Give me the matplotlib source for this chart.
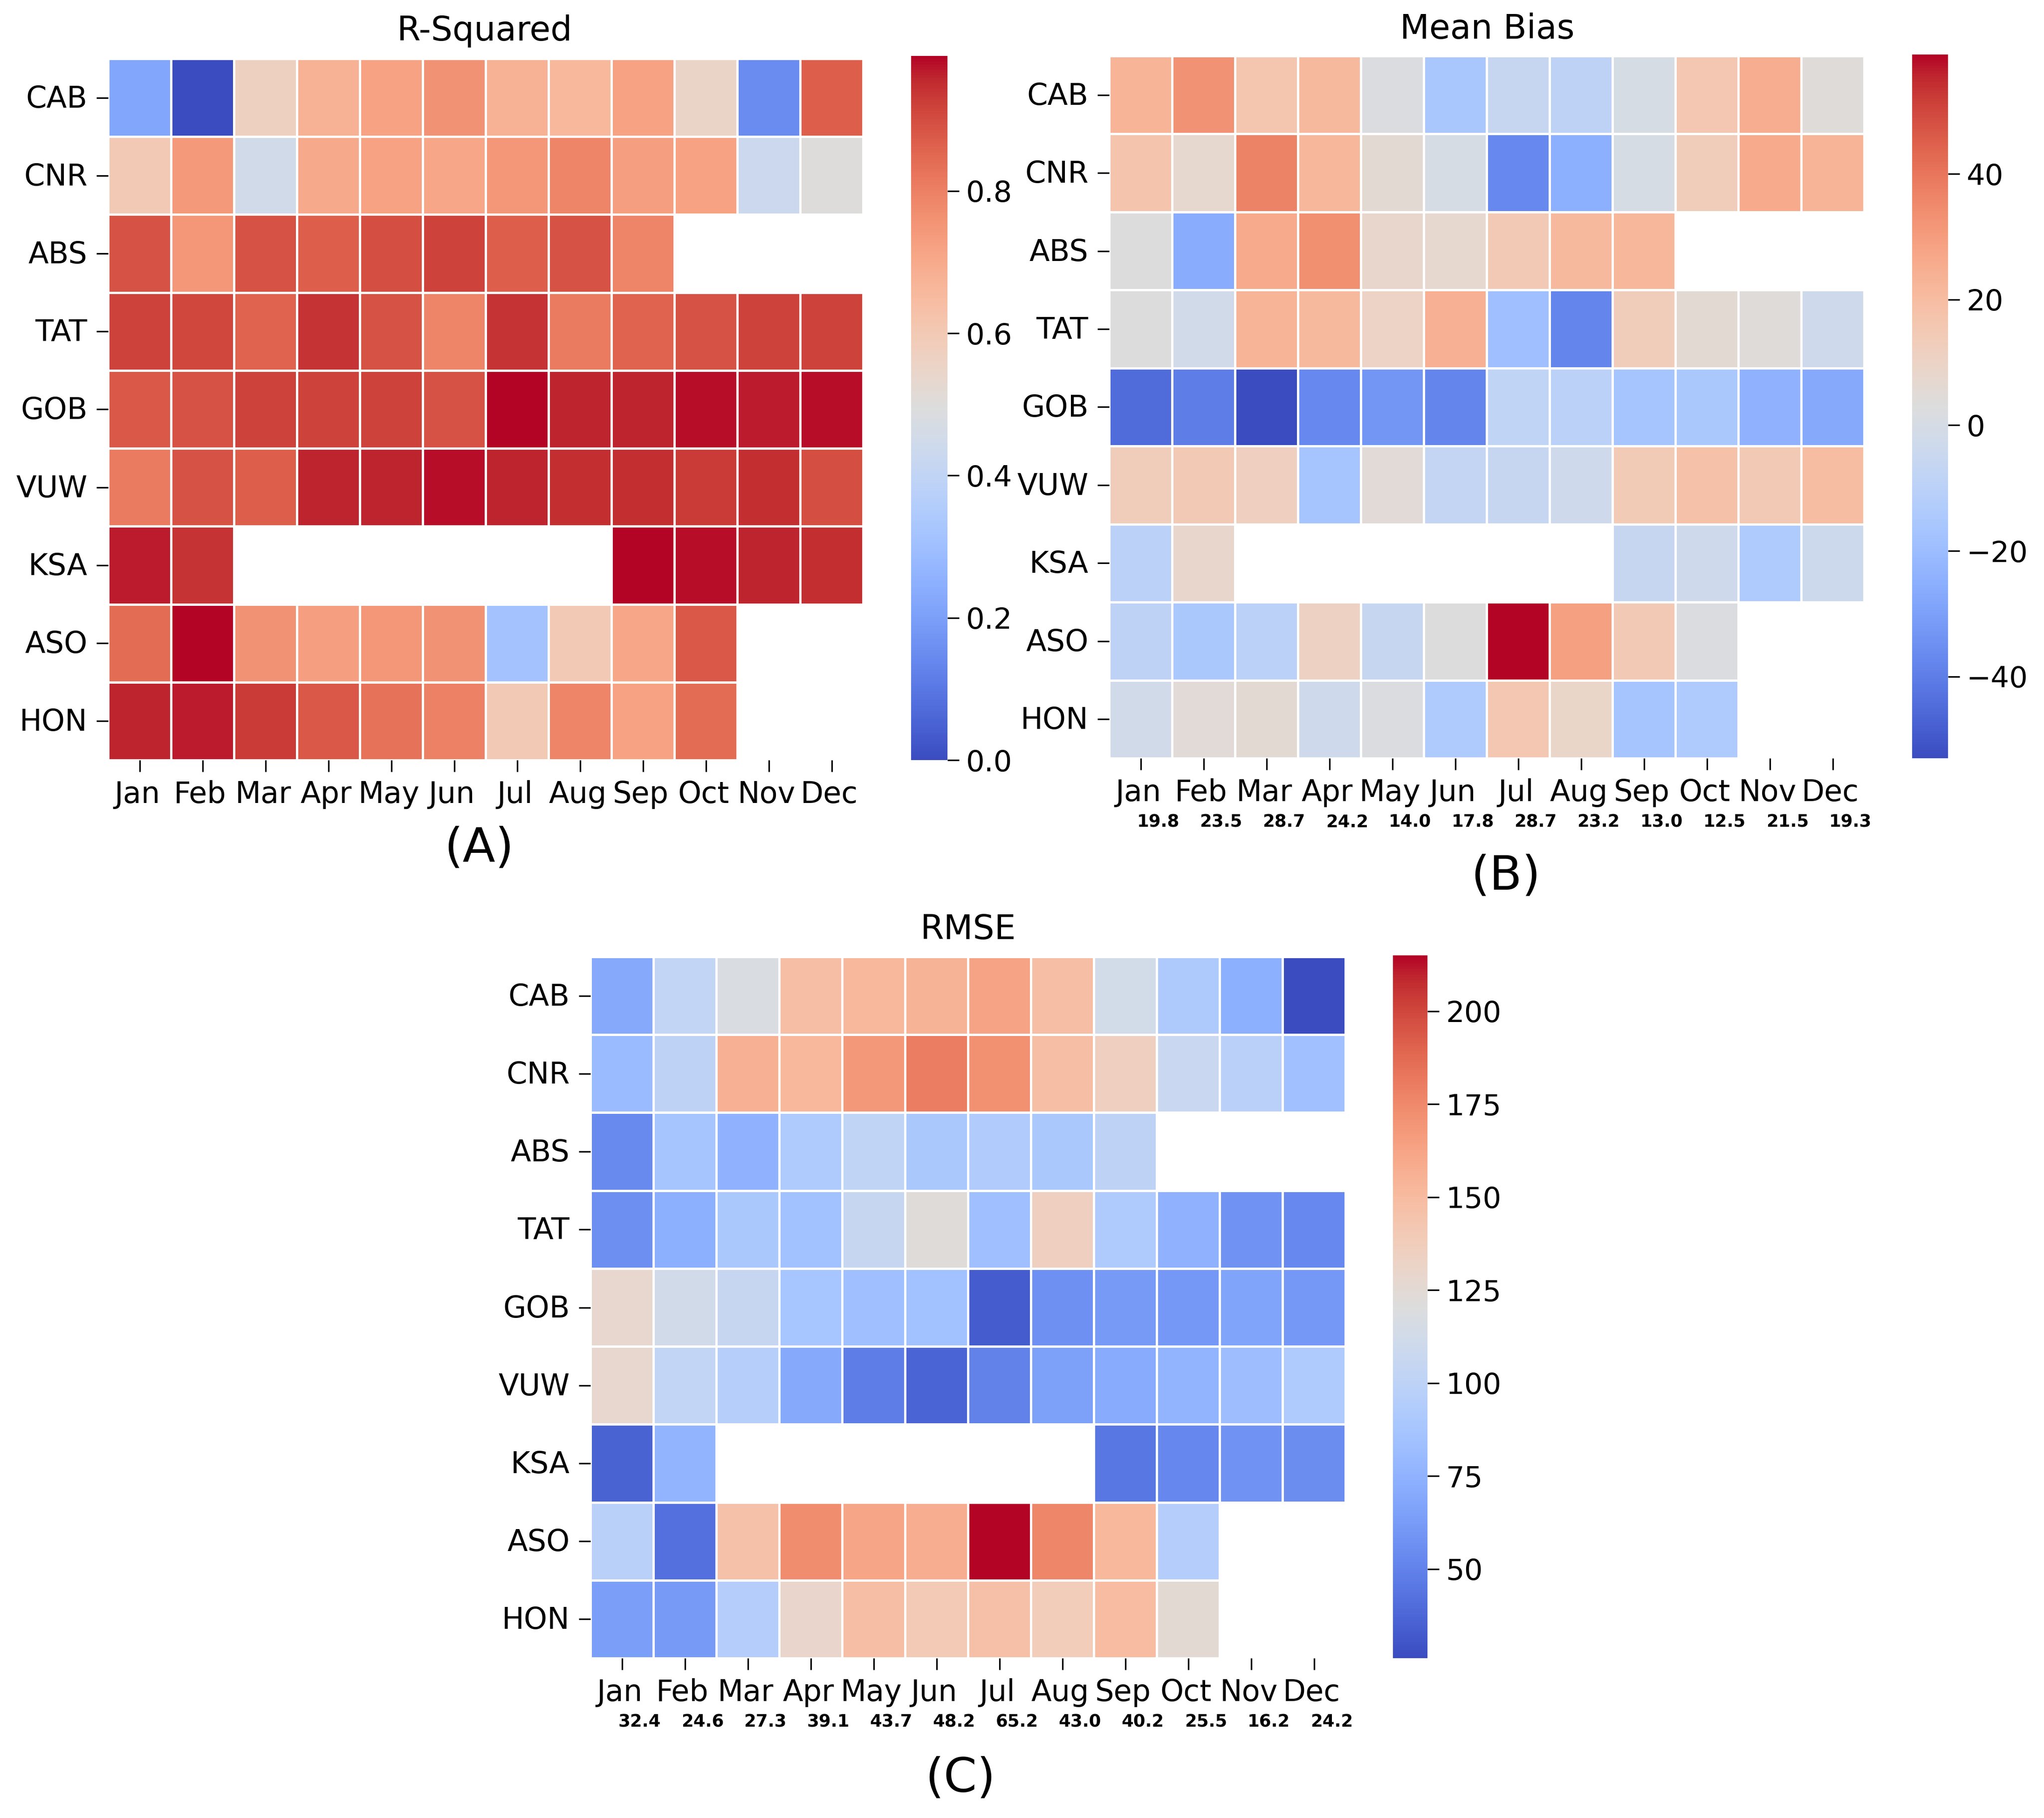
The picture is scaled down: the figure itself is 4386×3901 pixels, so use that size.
import numpy as np
import matplotlib
matplotlib.use("Agg")
import matplotlib.pyplot as plt
from matplotlib.transforms import ScaledTranslation
import seaborn as sns

W = 4386
H = 3901
nan = np.nan

stations = ['CAB', 'CNR', 'ABS', 'TAT', 'GOB', 'VUW', 'KSA', 'ASO', 'HON']
months = ['Jan', 'Feb', 'Mar', 'Apr', 'May', 'Jun', 'Jul', 'Aug', 'Sep', 'Oct', 'Nov', 'Dec']

r2 = [
    [.22, .00, .57, .68, .72, .76, .68, .66, .72, .55, .15, .87],
    [.60, .74, .45, .70, .72, .71, .75, .79, .73, .72, .43, .50],
    [.89, .75, .89, .87, .90, .92, .87, .89, .79, nan, nan, nan],
    [.92, .91, .86, .94, .89, .79, .94, .81, .86, .89, .92, .92],
    [.88, .89, .92, .92, .92, .89, .99, .96, .96, .98, .97, .98],
    [.81, .89, .87, .96, .96, .98, .96, .95, .95, .93, .95, .90],
    [.97, .94, nan, nan, nan, nan, nan, nan, .99, .98, .96, .95],
    [.84, .99, .76, .73, .75, .76, .31, .60, .71, .88, nan, nan],
    [.96, .97, .93, .88, .83, .80, .60, .79, .72, .84, nan, nan],
]

bias = [
    [23, 33, 16.5, 21, 2, -16, -6, -9, 0, 16, 25, 4],
    [17, 7, 37, 22, 6, 0, -37, -25, 0, 13, 26, 23],
    [3, -26, 26, 34, 8, 7, 15, 21, 22, nan, nan, nan],
    [3, -2, 23, 21, 10, 24, -19, -38, 13, 6, 4, -3],
    [-45, -40, -53, -37, -33, -38, -8, -10, -17, -15, -24, -27],
    [13, 15, 12, -17, 5, -7, -6, -3, 14, 18, 15, 20],
    [-10, 8, nan, nan, nan, nan, nan, nan, -6, -3, -14, -4],
    [-9, -15, -10, 11, -6, 3, 59, 29, 15, 2, nan, nan],
    [-2, 5, 6, -3, 2, -14, 16, 9, -17, -14, nan, nan],
]

rmse = [
    [70, 103, 118, 148, 152, 155, 163, 148, 113, 91, 73, 26],
    [80, 100, 156, 152, 168, 180, 172, 148, 136, 107, 98, 84],
    [54, 87, 75, 92, 102, 90, 93, 90, 100, nan, nan, nan],
    [56, 73, 90, 85, 105, 122, 83, 136, 92, 74, 58, 53],
    [128, 112, 105, 88, 83, 85, 33, 57, 62, 60, 67, 60],
    [128, 103, 96, 70, 48, 37, 50, 65, 71, 76, 82, 92],
    [36, 76, nan, nan, nan, nan, nan, nan, 45, 52, 58, 55],
    [97, 42, 146, 173, 162, 158, 215, 176, 152, 95, nan, nan],
    [64, 62, 95, 130, 148, 140, 147, 138, 150, 125, nan, nan],
]

bias_notes = ['19.8', '23.5', '28.7', '24.2', '14.0', '17.8', '28.7', '23.2', '13.0', '12.5', '21.5', '19.3']
rmse_notes = ['32.4', '24.6', '27.3', '39.1', '43.7', '48.2', '65.2', '43.0', '40.2', '25.5', '16.2', '24.2']

r2_ticks = [0.0, 0.2, 0.4, 0.6, 0.8]
bias_ticks = [-40, -20, 0, 20, 40]
rmse_ticks = [50, 75, 100, 125, 150, 175, 200]


def box(x0, y0, x1, y1):
    # pixel box (top-left origin) to figure fractions
    return [x0 / W, 1 - y1 / H, (x1 - x0) / W, (y1 - y0) / H]


def figtext(x, y, s, size, **kw):
    fig.text(x / W, 1 - y / H, s, fontsize=size, ha='center', va='center', **kw)


def panel(data, vmin, vmax, ticks, main_box, cbar_box, fmt=None, notes=None):
    ax = fig.add_axes(box(*main_box))
    cax = fig.add_axes(box(*cbar_box))
    sns.heatmap(np.array(data, dtype=float), ax=ax, cbar_ax=cax, cmap='coolwarm',
                vmin=vmin, vmax=vmax, linewidths=0.8, linecolor='white',
                xticklabels=months, yticklabels=stations)
    ax.tick_params(axis='both', length=6, width=0.8)
    ax.set_yticklabels(stations, rotation=0, fontsize=15.3)
    ax.set_xticklabels(months, rotation=0, fontsize=15.3)
    # labels sit a little left of their ticks in the original
    shift = ScaledTranslation(-5 / 300, -3 / 300, fig.dpi_scale_trans)
    for lab in ax.get_xticklabels() + ax.get_yticklabels():
        lab.set_transform(lab.get_transform() + shift)
    cax.set_yticks(ticks)
    if fmt:
        cax.set_yticklabels([fmt % t for t in ticks])
    cax.tick_params(labelsize=15, length=6, width=0.8)
    if notes:
        for i, note in enumerate(notes):
            ax.text(i + 0.78, -0.091, note, fontsize=8.9, fontweight='bold',
                    ha='center', va='center', transform=ax.get_xaxis_transform())
    return ax


fig = plt.figure(figsize=(W / 300, H / 300), dpi=300)

panel(r2, 0.0, 0.99, r2_ticks, (232, 126, 1852, 1631), (1955, 120, 2033, 1631), fmt='%.1f')
panel(bias, -53, 59, bias_ticks, (2380, 120, 4000, 1627), (4103, 117, 4180, 1627), notes=bias_notes)
panel(rmse, 26, 215, rmse_ticks, (1267, 2053, 2887, 3558), (2989, 2050, 3063, 3558), notes=rmse_notes)

figtext(1040, 66, 'R-Squared', 17.5)
figtext(3191, 62, 'Mean Bias', 17.5)
figtext(2078, 1994, 'RMSE', 17.5)
figtext(1028, 1820, '(A)', 24.5)
figtext(3231, 1880, '(B)', 24.5)
figtext(2061, 3816, '(C)', 24.5)

fig.savefig('out.png', dpi=300)
